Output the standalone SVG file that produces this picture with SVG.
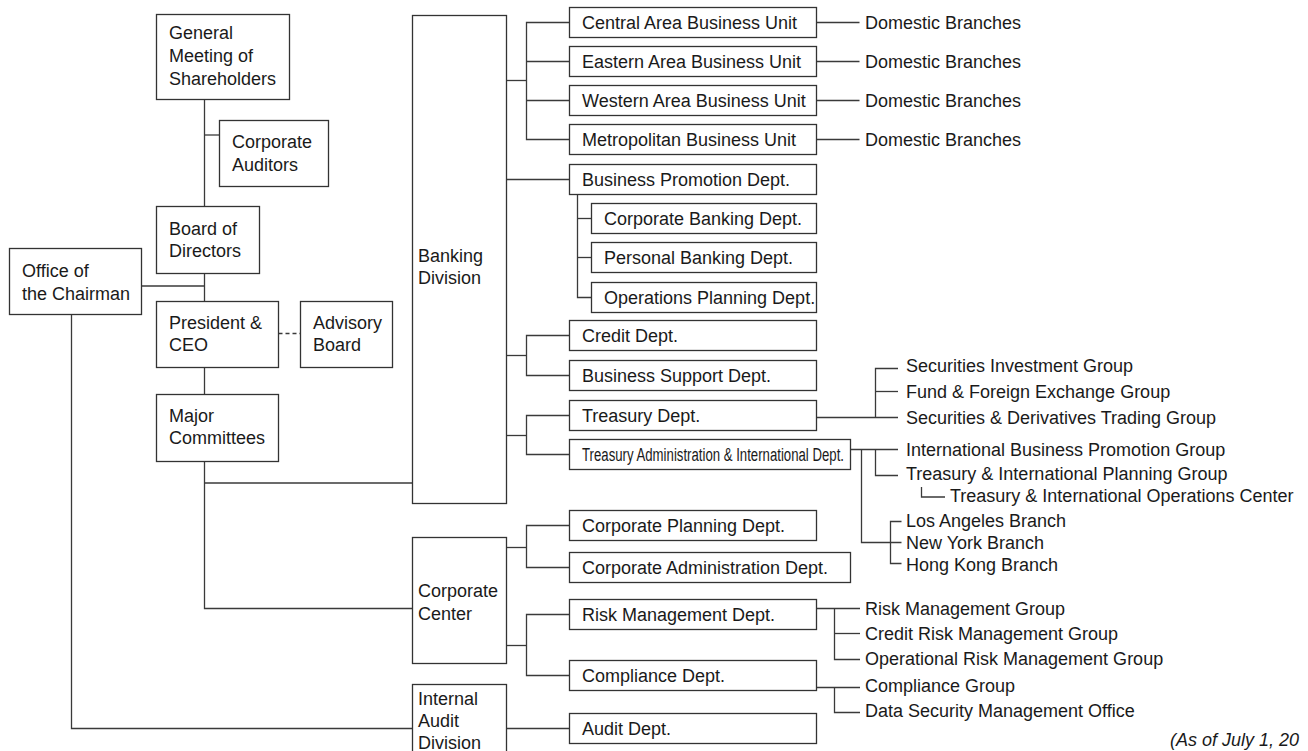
<svg xmlns="http://www.w3.org/2000/svg" width="1308" height="751" viewBox="0 0 1308 751">
<style>
  .box { fill: #ffffff; stroke: #333333; stroke-width: 1.3; }
  .ln { fill: none; stroke: #3a3a3a; stroke-width: 1.3; }
  .dash { fill: none; stroke: #3a3a3a; stroke-width: 1.3; stroke-dasharray: 4 3; }
  text { font-family: "Liberation Sans", Arial, Helvetica, sans-serif; font-size: 18px; fill: #1a1a1a; }
  .it { font-style: italic; }
</style>
<rect x="0" y="0" width="1308" height="751" fill="#ffffff"/>

<g id="connectors">
  <path class="ln" d="M204.5 99.5 V206.5"/>
  <path class="ln" d="M204.5 135 H219.5"/>
  <path class="ln" d="M204.5 273.5 V301.5"/>
  <path class="ln" d="M141.5 286 H204.5"/>
  <path class="dash" d="M278.5 333.5 H300.5"/>
  <path class="ln" d="M204.5 367.5 V394.5"/>
  <path class="ln" d="M204.5 461.5 V608.5 H412.5"/>
  <path class="ln" d="M204.5 483 H412.5"/>
  <path class="ln" d="M71.5 314.5 V728.5 H412.5"/>
  <!-- Banking: business units -->
  <path class="ln" d="M506.5 80.5 H526.5"/>
  <path class="ln" d="M569.5 22.5 H526.5 V139.5 H569.5"/>
  <path class="ln" d="M526.5 61.5 H569.5"/>
  <path class="ln" d="M526.5 100.5 H569.5"/>
  <path class="ln" d="M816.5 22.5 H859.5"/>
  <path class="ln" d="M816.5 61.5 H859.5"/>
  <path class="ln" d="M816.5 100.5 H859.5"/>
  <path class="ln" d="M816.5 139.5 H859.5"/>
  <!-- Business promotion -->
  <path class="ln" d="M506.5 179.5 H569.5"/>
  <path class="ln" d="M577.5 194.5 V297.5 H591.5"/>
  <path class="ln" d="M577.5 218.5 H591.5"/>
  <path class="ln" d="M577.5 257.5 H591.5"/>
  <!-- Credit / Business support -->
  <path class="ln" d="M506.5 355.5 H526.5"/>
  <path class="ln" d="M569.5 335.5 H526.5 V375.5 H569.5"/>
  <!-- Treasury -->
  <path class="ln" d="M506.5 435.5 H526.5"/>
  <path class="ln" d="M569.5 415.5 H526.5 V454.5 H569.5"/>
  <path class="ln" d="M816.5 417.5 H898"/>
  <path class="ln" d="M898 368.5 H875.5 V417.5"/>
  <path class="ln" d="M875.5 391.5 H898"/>
  <!-- Treasury Administration & International -->
  <path class="ln" d="M850.5 449.5 H898"/>
  <path class="ln" d="M875.5 449.5 V475.5 H898"/>
  <path class="ln" d="M921.5 487 V497 H945"/>
  <path class="ln" d="M861.5 449.5 V542.5 H901.5"/>
  <path class="ln" d="M901.5 521.5 H890.5 V563.5 H901.5"/>
  <!-- Corporate center -->
  <path class="ln" d="M506.5 547.5 H526.5"/>
  <path class="ln" d="M569.5 525.5 H526.5 V567.5 H569.5"/>
  <path class="ln" d="M506.5 645.5 H526.5"/>
  <path class="ln" d="M569.5 614.5 H526.5 V675.5 H569.5"/>
  <!-- Risk groups -->
  <path class="ln" d="M816.5 608.5 H860"/>
  <path class="ln" d="M834.5 608.5 V659.5 H860"/>
  <path class="ln" d="M834.5 633.5 H860"/>
  <path class="ln" d="M816.5 687.5 H860"/>
  <path class="ln" d="M834.5 687.5 V712.5 H860"/>
  <!-- Internal audit -->
  <path class="ln" d="M506.5 728.5 H569.5"/>
</g>

<g id="gms"><rect class="box" x="156.5" y="14.5" width="133" height="85"/>
  <text x="169" y="39">General</text><text x="169" y="62">Meeting of</text><text x="169" y="85">Shareholders</text></g>
<g id="auditors"><rect class="box" x="219.5" y="120.5" width="109" height="66"/>
  <text x="232" y="148">Corporate</text><text x="232" y="171">Auditors</text></g>
<g id="board"><rect class="box" x="156.5" y="206.5" width="103" height="67"/>
  <text x="169" y="235">Board of</text><text x="169" y="257">Directors</text></g>
<g id="chairman"><rect class="box" x="9.5" y="248.5" width="132" height="66"/>
  <text x="22" y="277">Office of</text><text x="22" y="299.5">the Chairman</text></g>
<g id="president"><rect class="box" x="156.5" y="301.5" width="122" height="66"/>
  <text x="169" y="328.5">President &amp;</text><text x="169" y="350.5">CEO</text></g>
<g id="advisory"><rect class="box" x="300.5" y="301.5" width="92" height="66"/>
  <text x="313" y="328.5">Advisory</text><text x="313" y="350.5">Board</text></g>
<g id="committees"><rect class="box" x="156.5" y="394.5" width="122" height="67"/>
  <text x="169" y="421.5">Major</text><text x="169" y="444">Committees</text></g>

<g id="banking"><rect class="box" x="412.5" y="15.5" width="94" height="488"/>
  <text x="418" y="262">Banking</text><text x="418" y="284">Division</text></g>
<g id="corpcenter"><rect class="box" x="412.5" y="537.5" width="94" height="126"/>
  <text x="418" y="597">Corporate</text><text x="418" y="619.5">Center</text></g>
<g id="internalaudit"><rect class="box" x="412.5" y="684.5" width="94" height="80"/>
  <text x="418" y="705">Internal</text><text x="418" y="727">Audit</text><text x="418" y="748.5">Division</text></g>

<g id="central"><rect class="box" x="569.5" y="7.5" width="247" height="30"/><text x="582" y="29">Central Area Business Unit</text></g>
<g id="eastern"><rect class="box" x="569.5" y="46.5" width="247" height="30"/><text x="582" y="68">Eastern Area Business Unit</text></g>
<g id="western"><rect class="box" x="569.5" y="85.5" width="247" height="30"/><text x="582" y="107">Western Area Business Unit</text></g>
<g id="metro"><rect class="box" x="569.5" y="124.5" width="247" height="30"/><text x="582" y="146">Metropolitan Business Unit</text></g>
<g id="dom1"><text x="865" y="29">Domestic Branches</text></g>
<g id="dom2"><text x="865" y="68">Domestic Branches</text></g>
<g id="dom3"><text x="865" y="107">Domestic Branches</text></g>
<g id="dom4"><text x="865" y="146">Domestic Branches</text></g>
<g id="bpd"><rect class="box" x="569.5" y="164.5" width="247" height="30"/><text x="582" y="186">Business Promotion Dept.</text></g>
<g id="cbd"><rect class="box" x="591.5" y="203.5" width="225" height="30"/><text x="604" y="225">Corporate Banking Dept.</text></g>
<g id="pbd"><rect class="box" x="591.5" y="242.5" width="225" height="30"/><text x="604" y="264">Personal Banking Dept.</text></g>
<g id="opd"><rect class="box" x="591.5" y="282.5" width="225" height="30"/><text x="604" y="304">Operations Planning Dept.</text></g>
<g id="credit"><rect class="box" x="569.5" y="320.5" width="247" height="30"/><text x="582" y="342">Credit Dept.</text></g>
<g id="bsd"><rect class="box" x="569.5" y="360.5" width="247" height="30"/><text x="582" y="382">Business Support Dept.</text></g>
<g id="treasury"><rect class="box" x="569.5" y="400.5" width="247" height="30"/><text x="582" y="422">Treasury Dept.</text></g>
<g id="taid"><rect class="box" x="569.5" y="439.5" width="281" height="30"/><text x="582" y="461" textLength="262" lengthAdjust="spacingAndGlyphs">Treasury Administration &amp; International Dept.</text></g>
<g id="cpd"><rect class="box" x="569.5" y="510.5" width="247" height="30"/><text x="582" y="532">Corporate Planning Dept.</text></g>
<g id="cad"><rect class="box" x="569.5" y="552.5" width="281" height="30"/><text x="582" y="574">Corporate Administration Dept.</text></g>
<g id="rmd"><rect class="box" x="569.5" y="599.5" width="247" height="30"/><text x="582" y="621">Risk Management Dept.</text></g>
<g id="compliance"><rect class="box" x="569.5" y="660.5" width="247" height="30"/><text x="582" y="682">Compliance Dept.</text></g>
<g id="audit"><rect class="box" x="569.5" y="713.5" width="247" height="30"/><text x="582" y="735">Audit Dept.</text></g>

<g id="sig"><text x="906" y="371.5">Securities Investment Group</text></g>
<g id="ffeg"><text x="906" y="397.5">Fund &amp; Foreign Exchange Group</text></g>
<g id="sdtg"><text x="906" y="424">Securities &amp; Derivatives Trading Group</text></g>
<g id="ibpg"><text x="906" y="456">International Business Promotion Group</text></g>
<g id="tipg"><text x="906" y="480">Treasury &amp; International Planning Group</text></g>
<g id="tioc"><text x="950" y="502">Treasury &amp; International Operations Center</text></g>
<g id="la"><text x="906" y="527">Los Angeles Branch</text></g>
<g id="ny"><text x="906" y="549">New York Branch</text></g>
<g id="hk"><text x="906" y="571">Hong Kong Branch</text></g>
<g id="rmg"><text x="865" y="615">Risk Management Group</text></g>
<g id="crmg"><text x="865" y="640">Credit Risk Management Group</text></g>
<g id="ormg"><text x="865" y="665">Operational Risk Management Group</text></g>
<g id="cg"><text x="865" y="692">Compliance Group</text></g>
<g id="dsmo"><text x="865" y="717">Data Security Management Office</text></g>

<text class="it" x="1170" y="746">(As of July 1, 20</text>
</svg>
